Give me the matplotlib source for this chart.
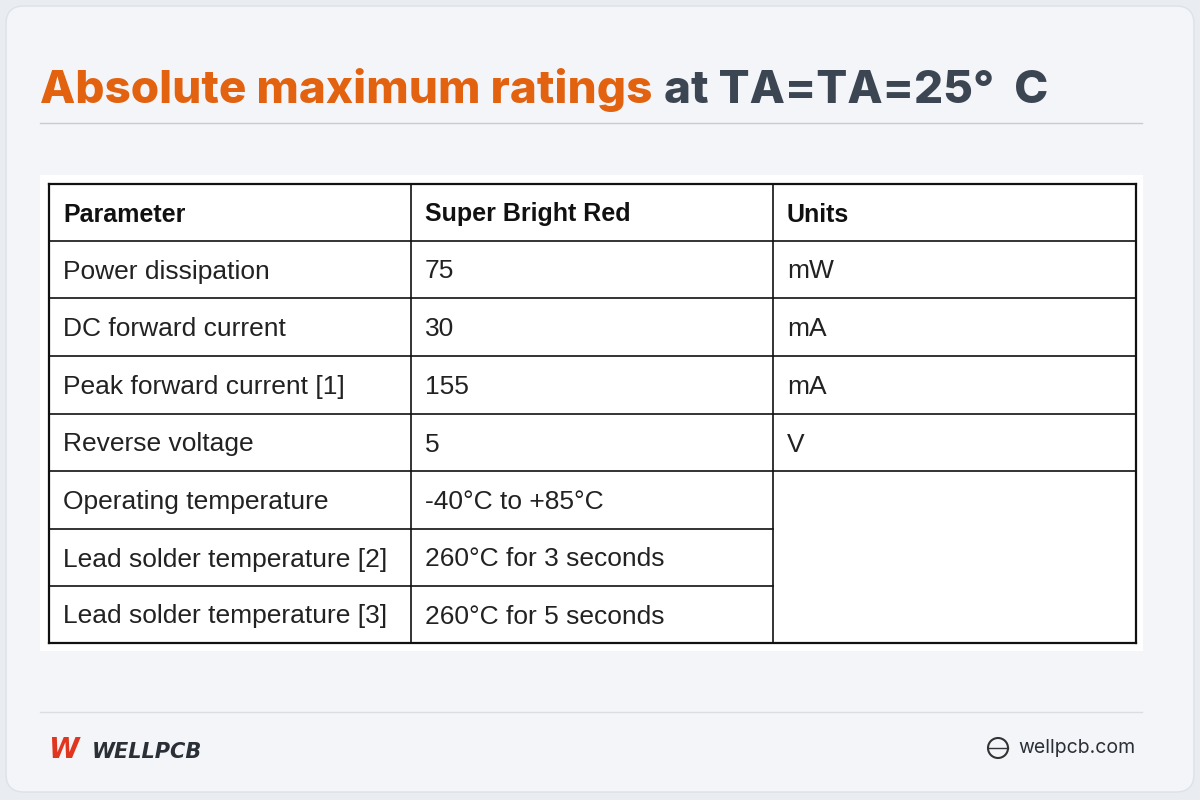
import matplotlib
matplotlib.use("Agg")
import matplotlib.pyplot as plt
from matplotlib.patches import FancyBboxPatch, Rectangle, Circle

headers = ["Parameter", "Super Bright Red", "Units"]
parameters = ["Power dissipation", "DC forward current", "Peak forward current [1]",
              "Reverse voltage", "Operating temperature",
              "Lead solder temperature [2]", "Lead solder temperature [3]"]
values = ["75", "30", "155", "5", "-40°C to +85°C", "260°C for 3 seconds", "260°C for 5 seconds"]
units = ["mW", "mA", "mA", "V", "", "", ""]

fig = plt.figure(figsize=(12, 8), dpi=100)
ax = fig.add_axes([0, 0, 1, 1])
ax.set_xlim(0, 1200); ax.set_ylim(800, 0); ax.axis("off")
fig.patch.set_facecolor("#e9edf2")
ax.add_patch(FancyBboxPatch((6, 6), 1188, 786, boxstyle="round,pad=0,rounding_size=18",
                            fc="#f3f5f8", ec="#dde2e8", lw=1))

# title
t1 = ax.text(40, 103, "Absolute maximum ratings", fontsize=33, fontweight="heavy",
             family="Inter", color="#e2620f", va="baseline")
fig.canvas.draw()
bb = t1.get_window_extent().transformed(ax.transData.inverted())
ax.text(bb.x1 + 12, 103, "at TA=TA=25°  C", fontsize=33, fontweight="heavy",
        family="Inter", color="#3c4652", va="baseline")
ax.plot([40, 1142], [123, 123], color="#c8ccd2", lw=1)

# table
ax.add_patch(Rectangle((40, 175), 1103, 476, fc="white", ec="none"))
xs = [49, 411, 773, 1136]
ys = [184, 241, 298, 356, 414, 471, 529, 586, 643]
lc = "#111111"
for x in [xs[0], xs[3]]:
    ax.plot([x, x], [ys[0], ys[-1]], color=lc, lw=1.6)
for x in xs[1:3]:
    ax.plot([x, x], [ys[0], ys[-1]], color=lc, lw=1.2)
for i, y in enumerate(ys):
    if i in (0, len(ys) - 1):
        ax.plot([xs[0], xs[3]], [y, y], color=lc, lw=1.6)
    elif i >= 6:
        ax.plot([xs[0], xs[2]], [y, y], color=lc, lw=1.2)
    else:
        ax.plot([xs[0], xs[3]], [y, y], color=lc, lw=1.2)

fs = 19
fam = "Liberation Sans"
for j, h in enumerate(headers):
    ax.text(xs[j] + 14, (ys[0] + ys[1]) / 2 + 2, h, fontsize=fs - 1, fontweight="bold",
            family=fam, color="#111111", va="center")
for i in range(len(parameters)):
    yc = (ys[i + 1] + ys[i + 2]) / 2 + 2
    for j, s in enumerate([parameters[i], values[i], units[i]]):
        if s:
            ax.text(xs[j] + 14, yc, s, fontsize=fs, family=fam, color="#222222", va="center")

# footer
ax.plot([40, 1142], [712, 712], color="#dadee3", lw=1)
ax.text(48, 750, "W", fontsize=20, fontweight="heavy", color="#e0361f", va="center",
        family="DejaVu Sans", style="italic")
ax.text(92, 752, "WELLPCB", fontsize=15, fontweight="heavy", color="#2b2f36", va="center",
        family="DejaVu Sans", style="italic")
ax.add_patch(Circle((998, 748), 10, fc="none", ec="#333333", lw=1.5))
ax.plot([988, 1008], [748, 748], color="#333333", lw=1)
ax.text(1018, 748, "wellpcb.com", fontsize=14, family="Inter", color="#2b2f36", va="center")

fig.savefig("out.png", dpi=100, facecolor=fig.get_facecolor())
